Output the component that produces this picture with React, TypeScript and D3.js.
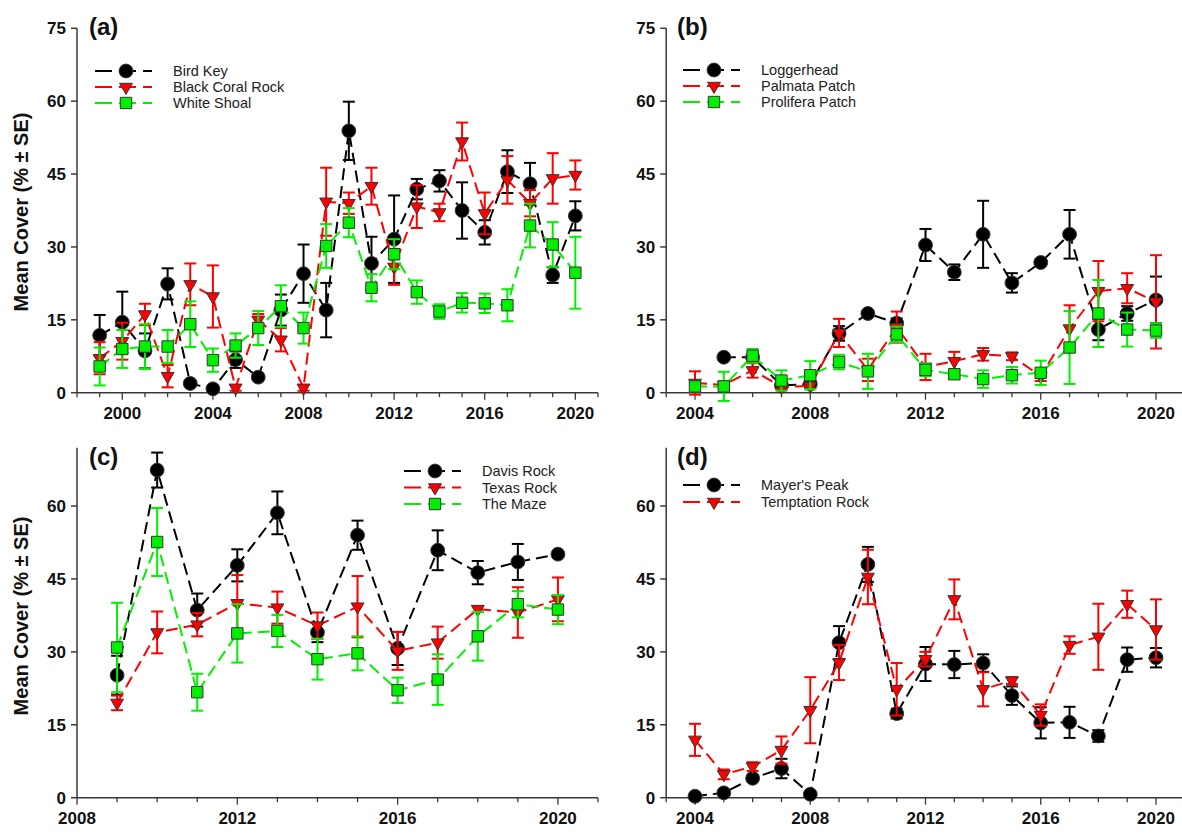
import React from 'react';
import * as d3 from 'd3';

// ---- data ----
const yearsA = [1999, 2000, 2001, 2002, 2003, 2004, 2005, 2006, 2007, 2008, 2009, 2010, 2011, 2012, 2013, 2014, 2015, 2016, 2017, 2018, 2019, 2020];
const birdKey = [11.8, 14.5, 8.6, 22.4, 1.9, 0.8, 6.8, 3.2, 17.0, 24.5, 17.0, 53.9, 26.6, 31.6, 41.9, 43.6, 37.5, 33.0, 45.5, 43.0, 24.2, 36.4];
const birdKeySE = [4.2, 6.3, 3.6, 3.2, 0.6, 0.5, 1.7, 0.5, 3.2, 6.0, 5.6, 6.0, 5.5, 9.0, 2.1, 2.2, 5.8, 2.5, 4.4, 4.3, 1.6, 3.0];
const blackCoral = [7.1, 10.6, 16.1, 3.4, 22.3, 19.8, 1.0, 15.0, 10.9, 1.0, 39.3, 39.0, 42.5, 25.9, 38.3, 37.1, 51.7, 36.9, 43.8, 39.0, 44.1, 44.8];
const blackCoralSE = [3.3, 3.8, 2.2, 2.3, 4.3, 6.4, 0.6, 1.2, 2.4, 0.6, 7.0, 2.2, 3.8, 3.7, 4.4, 1.8, 3.9, 4.3, 4.9, 2.7, 5.2, 3.0];
const whiteShoal = [5.4, 9.0, 9.5, 9.5, 14.1, 6.7, 9.7, 13.3, 17.8, 13.3, 30.2, 35.0, 21.6, 28.5, 20.7, 16.7, 18.5, 18.4, 18.0, 34.4, 30.5, 24.7];
const whiteShoalSE = [3.9, 3.9, 4.6, 3.4, 4.7, 2.4, 2.5, 3.5, 4.3, 3.2, 4.5, 3.0, 2.8, 3.1, 2.4, 1.5, 2.0, 2.0, 3.3, 4.5, 4.6, 7.4];

const yearsB = [2004, 2005, 2006, 2007, 2008, 2009, 2010, 2011, 2012, 2013, 2014, 2015, 2016, 2017, 2018, 2019, 2020];
const loggerhead = [null, 7.3, 7.3, 1.5, 1.8, 12.2, 16.3, 14.3, 30.4, 24.8, 32.6, 22.6, 26.8, 32.6, 13.0, 16.3, 19.1];
const loggerheadSE = [0, 0.4, 0.4, 0.5, 0.5, 1.5, 0.5, 1.0, 3.3, 1.6, 6.9, 2.0, 0.6, 5.0, 2.2, 1.5, 4.8];
const palmata = [2.0, 1.6, 4.6, 1.2, 1.4, 12.3, 4.7, 13.5, 5.3, 6.5, 7.9, 7.5, 3.4, 13.2, 20.9, 21.5, 18.7];
const palmataSE = [2.4, 0.5, 1.5, 0.4, 0.5, 2.9, 2.3, 3.2, 2.7, 1.9, 1.3, 0.8, 1.0, 4.8, 6.2, 3.1, 9.6];
const prolifera = [1.3, 1.3, 7.6, 2.5, 3.6, 6.3, 4.4, 12.0, 4.7, 3.8, 2.8, 3.6, 4.1, 9.3, 16.3, 13.0, 12.8];
const proliferaSE = [1.0, 3.0, 1.4, 2.1, 2.9, 1.5, 3.6, 1.6, 1.3, 0.8, 1.8, 1.7, 2.5, 7.5, 6.9, 3.5, 1.5];

const yearsC = [2009, 2010, 2011, 2012, 2013, 2014, 2015, 2016, 2017, 2018, 2019, 2020];
const davisRock = [25.2, 67.4, 38.6, 47.8, 58.6, 34.0, 54.0, 30.7, 50.9, 46.3, 48.5, 50.1];
const davisRockSE = [4.0, 3.6, 3.4, 3.3, 4.4, 2.0, 3.0, 3.4, 4.1, 2.4, 3.7, 0.6];
const texasRock = [19.5, 34.0, 35.6, 40.0, 39.1, 35.4, 39.3, 30.2, 31.9, 38.8, 38.1, 40.8];
const texasRockSE = [1.5, 4.3, 2.4, 5.8, 3.3, 2.7, 6.3, 3.9, 3.3, 0.6, 5.2, 4.5];
const theMaze = [30.9, 52.6, 21.7, 33.8, 34.3, 28.5, 29.7, 22.1, 24.3, 33.2, 39.8, 38.7];
const theMazeSE = [9.2, 7.0, 3.8, 6.0, 3.3, 4.2, 3.5, 2.6, 5.2, 5.0, 2.7, 3.0];

const yearsD = [2004, 2005, 2006, 2007, 2008, 2009, 2010, 2011, 2012, 2013, 2014, 2015, 2016, 2017, 2018, 2019, 2020];
const mayersPeak = [0.3, 1.0, 4.0, 6.0, 0.7, 31.9, 48.0, 17.3, 27.5, 27.4, 27.7, 21.0, 15.4, 15.5, 12.7, 28.4, 28.8];
const mayersPeakSE = [0.3, 0.5, 0.5, 2.0, 0.3, 3.4, 3.6, 1.0, 3.5, 2.8, 1.8, 1.9, 3.2, 3.2, 1.2, 2.5, 2.0];
const temptation = [11.9, 4.8, 6.4, 9.8, 18.0, 27.8, 45.4, 22.3, 28.5, 40.8, 22.3, 24.1, 17.0, 31.4, 33.1, 39.8, 34.6];
const temptationSE = [3.3, 1.0, 0.9, 2.8, 6.8, 3.6, 5.6, 5.4, 1.5, 4.1, 3.5, 0.7, 2.2, 1.8, 6.8, 2.8, 6.2];

const yTicksTop = [0, 15, 30, 45, 60, 75];
const yTicksBottom = [0, 15, 30, 45, 60];

// ---- styles ----
const FONT = '"Liberation Sans", Arial, sans-serif';
const BLACK = '#000000';
const RED = '#ff0000';
const GREEN = '#00f000';
const AXIS = '#3a3a3a';

const circleSym = d3.symbol(d3.symbolCircle, 150);
const triSym = d3.symbol(d3.symbolTriangle, 72);
const squareSym = d3.symbol(d3.symbolSquare, 130);

const styles = {
  circle: {color: BLACK, path: circleSym(), rotate: 0},
  tri: {color: RED, path: triSym(), rotate: 180},
  square: {color: GREEN, path: squareSym(), rotate: 0},
};

const panels = [
  {
    letter: '(a)', years: yearsA, xDomain: [1998, 2021], yDomain: [0, 75], yTicks: yTicksTop,
    left: 77, right: 598, top: 28.3, bottom: 392.7, letterX: 89, letterY: 35, ylabel: 212,
    legend: {x: 95, y: 71, dy: 16},
    series: [
      {name: 'Bird Key', v: birdKey, se: birdKeySE, kind: 'circle'},
      {name: 'Black Coral Rock', v: blackCoral, se: blackCoralSE, kind: 'tri'},
      {name: 'White Shoal', v: whiteShoal, se: whiteShoalSE, kind: 'square'},
    ],
  },
  {
    letter: '(b)', years: yearsB, xDomain: [2003, 2021], yDomain: [0, 75], yTicks: yTicksTop,
    left: 666.2, right: 1184.8, top: 28.3, bottom: 392.7, letterX: 677, letterY: 35, ylabel: null,
    legend: {x: 683, y: 70, dy: 16},
    series: [
      {name: 'Loggerhead', v: loggerhead, se: loggerheadSE, kind: 'circle'},
      {name: 'Palmata Patch', v: palmata, se: palmataSE, kind: 'tri'},
      {name: 'Prolifera Patch', v: prolifera, se: proliferaSE, kind: 'square'},
    ],
  },
  {
    letter: '(c)', years: yearsC, xDomain: [2008, 2021], yDomain: [0, 72], yTicks: yTicksBottom,
    left: 77, right: 598, top: 797.7 - 72 * 4.861, bottom: 797.7, letterX: 89, letterY: 465, ylabel: 616,
    legend: {x: 404, y: 471, dy: 16.5},
    series: [
      {name: 'Davis Rock', v: davisRock, se: davisRockSE, kind: 'circle'},
      {name: 'Texas Rock', v: texasRock, se: texasRockSE, kind: 'tri'},
      {name: 'The Maze', v: theMaze, se: theMazeSE, kind: 'square'},
    ],
  },
  {
    letter: '(d)', years: yearsD, xDomain: [2003, 2021], yDomain: [0, 72], yTicks: yTicksBottom,
    left: 666.2, right: 1184.8, top: 797.7 - 72 * 4.861, bottom: 797.7, letterX: 677, letterY: 465, ylabel: null,
    legend: {x: 683, y: 485, dy: 17},
    series: [
      {name: "Mayer's Peak", v: mayersPeak, se: mayersPeakSE, kind: 'circle'},
      {name: 'Temptation Rock', v: temptation, se: temptationSE, kind: 'tri'},
    ],
  },
];

function Marker({kind, x, y}) {
  const s = styles[kind];
  return (
    <path d={s.path} transform={`translate(${x},${y}) rotate(${s.rotate})`}
          fill={s.color} stroke="#333" strokeWidth={1}/>
  );
}

function Panel({p}) {
  const x = d3.scaleLinear().domain(p.xDomain).range([p.left, p.right]);
  const y = d3.scaleLinear().domain(p.yDomain).range([p.bottom, p.top]);
  const allYears = d3.range(p.xDomain[0], p.xDomain[1] + 1);

  return (
    <g>
      {/* axes */}
      <line x1={p.left} x2={p.left} y1={p.top} y2={p.bottom} stroke={AXIS} strokeWidth={1.5}/>
      <line x1={p.left} x2={p.right} y1={p.bottom} y2={p.bottom} stroke={AXIS} strokeWidth={1.5}/>
      {p.yTicks.map(t => (
        <g key={'y' + t}>
          <line x1={p.left - 6} x2={p.left} y1={y(t)} y2={y(t)} stroke={AXIS} strokeWidth={1.5}/>
          <text x={p.left - 11} y={y(t)} dy="0.36em" textAnchor="end" fontSize={17}
                fontWeight="bold" fill="#111">{t}</text>
        </g>
      ))}
      {allYears.map(yr => {
        const major = yr % 4 === 0;
        return (
          <g key={'x' + yr}>
            <line x1={x(yr)} x2={x(yr)} y1={p.bottom} y2={p.bottom + (major ? 7 : 4.5)}
                  stroke={AXIS} strokeWidth={1.3}/>
            {major && (
              <text x={x(yr)} y={p.bottom + 26} textAnchor="middle" fontSize={17}
                    fontWeight="bold" fill="#111">{yr}</text>
            )}
          </g>
        );
      })}
      <text x={p.letterX} y={p.letterY} fontSize={24} fontWeight="bold" fill="#111">{p.letter}</text>
      {p.ylabel !== null && (
        <text transform={`translate(28,${p.ylabel}) rotate(-90)`} textAnchor="middle" fontSize={20}
              fontWeight="bold" fill="#111">Mean Cover (% ± SE)</text>
      )}

      {/* series */}
      {p.series.map(s => {
        const st = styles[s.kind];
        const pts = p.years.map((yr, i) => ({yr, v: s.v[i], se: s.se[i]}));
        const line = d3.line().defined(d => d.v !== null).x(d => x(d.yr)).y(d => y(d.v));
        return (
          <g key={s.name}>
            <path d={line(pts)} fill="none" stroke={st.color} strokeWidth={2} strokeDasharray="12,6"/>
            {pts.filter(d => d.v !== null && d.se > 0).map(d => (
              <g key={d.yr} stroke={st.color} strokeWidth={2}>
                <line x1={x(d.yr)} x2={x(d.yr)} y1={y(d.v - d.se)} y2={y(d.v + d.se)}/>
                <line x1={x(d.yr) - 6} x2={x(d.yr) + 6} y1={y(d.v + d.se)} y2={y(d.v + d.se)}/>
                <line x1={x(d.yr) - 6} x2={x(d.yr) + 6} y1={y(d.v - d.se)} y2={y(d.v - d.se)}/>
              </g>
            ))}
            {pts.filter(d => d.v !== null).map(d => (
              <Marker key={d.yr} kind={s.kind} x={x(d.yr)} y={y(d.v)}/>
            ))}
          </g>
        );
      })}

      {/* legend */}
      {p.series.map((s, i) => {
        const ly = p.legend.y + i * p.legend.dy;
        const st = styles[s.kind];
        return (
          <g key={'lg' + i}>
            <line x1={p.legend.x} x2={p.legend.x + 57} y1={ly} y2={ly} stroke={st.color}
                  strokeWidth={2} strokeDasharray="17,7"/>
            <Marker kind={s.kind} x={p.legend.x + 31} y={ly}/>
            <text x={p.legend.x + 78} y={ly} dy="0.35em" fontSize={14.5} fill="#222">{s.name}</text>
          </g>
        );
      })}
    </g>
  );
}

export default function App() {
  return (
    <svg width={1182} height={833} style={{position: 'absolute', left: 0, top: 0, background: '#fff'}}
         fontFamily={FONT}>
      <rect width={1182} height={833} fill="#fff"/>
      {panels.map(p => <Panel key={p.letter} p={p}/>)}
    </svg>
  );
}
